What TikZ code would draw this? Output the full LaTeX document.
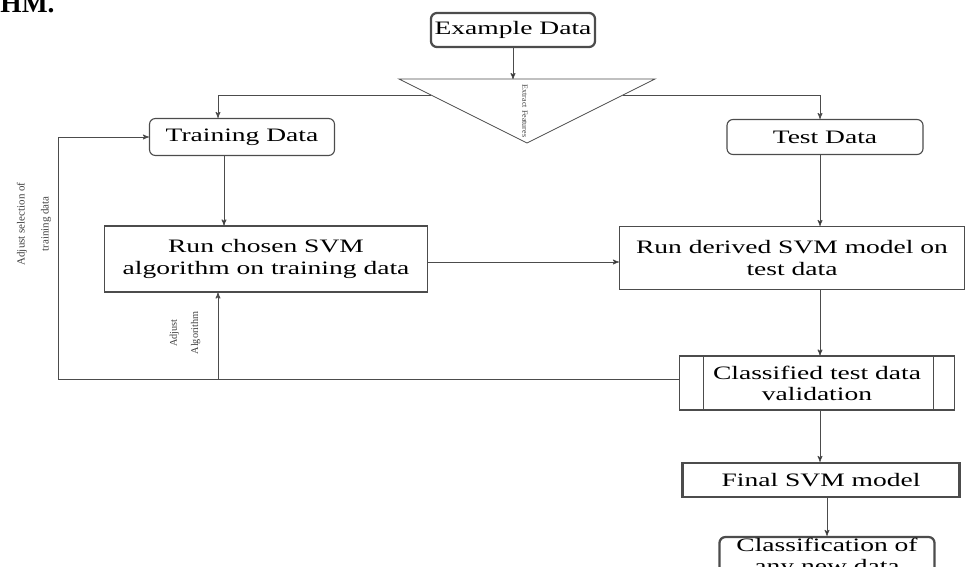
\documentclass[tikz,border=0pt]{standalone}
\usepackage{fontspec}
\setmainfont{Liberation Serif}[FakeStretch=1.45]
\newfontfamily\hmfont{Liberation Serif}
\usetikzlibrary{arrows, positioning}

\begin{document}
\begin{tikzpicture}[->,>=stealth',x=0.025cm,y=-0.025cm,semithick,
                    box/.style={draw=black!70,thick,inner sep=0pt,align=center,
                                font=\fontsize{13.5}{15}\selectfont},
                    rbox/.style={box,rounded corners=0.15cm},
                    tiny/.style={text=black!75,align=center,inner sep=0pt}]

\useasboundingbox (0,0) rectangle (978,566);

\node[anchor=base west,inner sep=0pt,font=\hmfont\fontsize{19.5}{21}\selectfont\bfseries] (hm) at (0,12) {HM.};

\node[rbox,line width=1.6pt,minimum width=4.1cm,minimum height=0.85cm] (ex) at (513,30) {Example Data};

% extract features
\coordinate (t1) at (399,79);
\coordinate (t2) at (655,79);
\coordinate (t3) at (527,143);
\draw[-,draw=black!70] (t1) -- (t2) -- (t3) -- cycle;
\node[tiny,font=\hmfont\fontsize{5.7}{6}\selectfont,rotate=-90] (fe) at (525,111) {Extract Features};
\coordinate (tl) at (431,95);
\coordinate (tr) at (623,95);

\node[rbox,minimum width=4.625cm,minimum height=0.925cm] (trn) at (242,137) {Training Data};
\node[rbox,minimum width=4.9cm,minimum height=0.875cm] (tst) at (825,137) {Test Data};

\node[box,minimum width=8.075cm,minimum height=1.65cm] (run1) at (266,259) {Run chosen SVM\\algorithm on training data};
\node[box,minimum width=8.625cm,minimum height=1.575cm] (run2) at (792,258) {Run derived SVM model on\\test data};

\node[box,minimum width=6.875cm,minimum height=1.35cm] (cl) at (817,383) {Classified test data\\validation};
\draw[-,draw=black!70,thick] ([xshift=0.625cm]cl.north west) -- ([xshift=0.625cm]cl.south west);
\draw[-,draw=black!70,thick] ([xshift=-0.55cm]cl.north east) -- ([xshift=-0.55cm]cl.south east);

\node[box,line width=1.6pt,minimum width=6.925cm,minimum height=0.85cm] (fin) at (821,480) {Final SVM model};
\node[rbox,line width=1.6pt,minimum width=5.375cm,minimum height=1.0cm] (new) at (827,557) {Classification of\\any new data};

\coordinate (fb) at (58,379);
\coordinate (aa) at (218,379);

\node[tiny,font=\hmfont\fontsize{7.8}{17}\selectfont,rotate=90] (l1) at (34,224) {Adjust selection of\\training data};
\node[tiny,font=\hmfont\fontsize{7.3}{15}\selectfont,rotate=90] (l2) at (185,333) {Adjust\\Algorithm};

\draw[-,draw=black!70]
(ex) edge[->] (ex |- t1)
(trn.south -| 224,0) edge[->] (run1.north -| 224,0)
(tst.south -| 820,0) edge[->] (run2.north -| 820,0)
(run1.east |- 0,262) edge[->] (run2.west |- 0,262)
(run2.south -| 820,0) edge[->] (cl.north -| 820,0)
(cl.south -| 820,0) edge[->] (fin.north -| 820,0)
(fin.south -| 827,0) edge[->] (new.north -| 827,0)
;

\draw[draw=black!70] (tl) -| (trn.north -| 218,0);
\draw[draw=black!70] (tr) -| (tst.north -| 820,0);

% feedback
\draw[draw=black!70] (cl.west |- fb) -- (fb) |- (trn.west);
\draw[draw=black!70] (aa) -- (aa |- run1.south);

\end{tikzpicture}
\end{document}
